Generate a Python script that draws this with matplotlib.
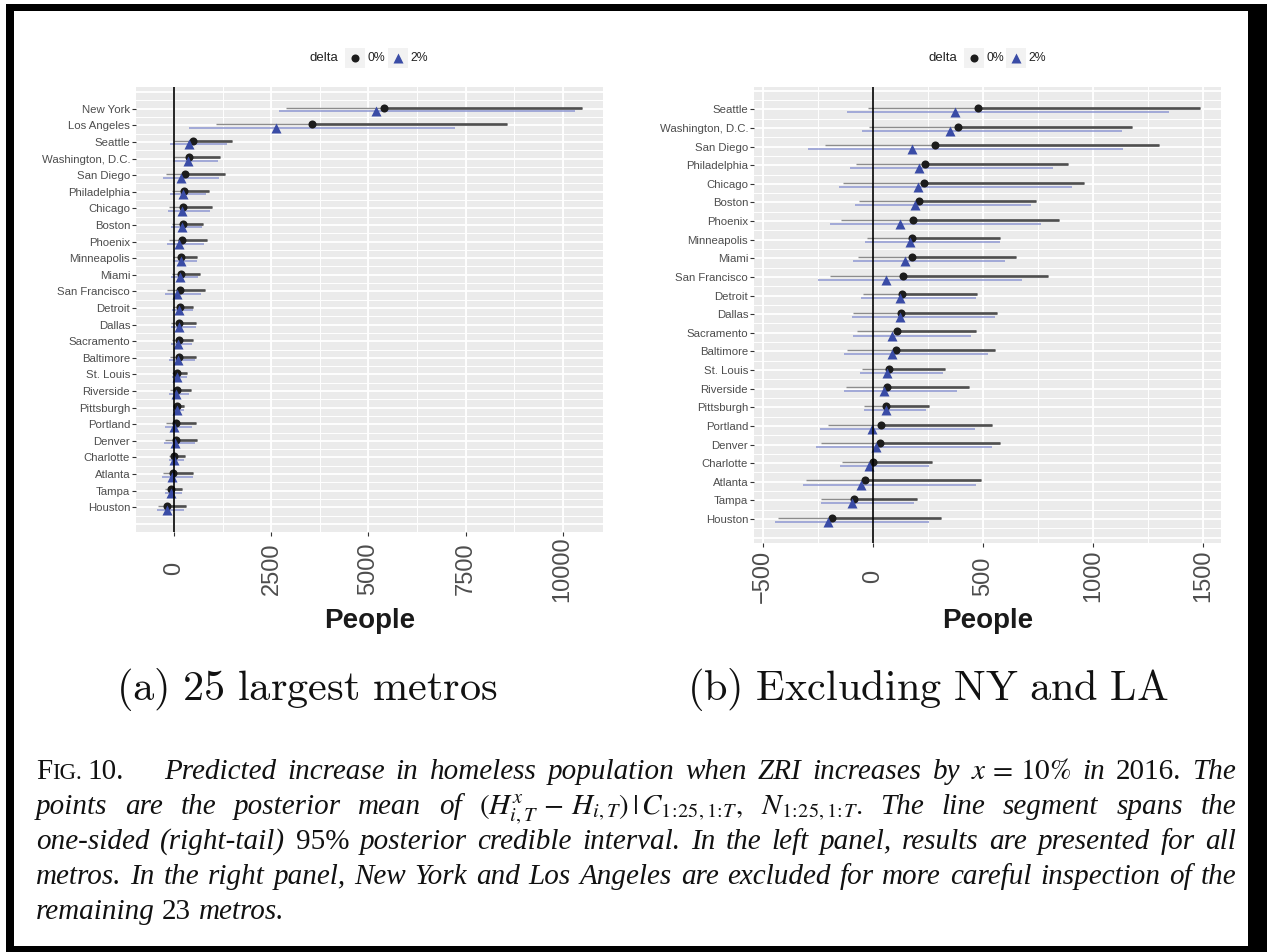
import matplotlib
matplotlib.use("Agg")
import matplotlib.pyplot as plt
import numpy as np
from matplotlib.patches import Rectangle
from matplotlib.lines import Line2D

plt.rcParams['font.family'] = ['Liberation Sans', 'DejaVu Sans']

W, H = 1267, 952

# ---------------- data (posterior mean and one-sided 95% interval) ----------------
metros = ["New York", "Los Angeles", "Seattle", "Washington, D.C.", "San Diego",
          "Philadelphia", "Chicago", "Boston", "Phoenix", "Minneapolis", "Miami",
          "San Francisco", "Detroit", "Dallas", "Sacramento", "Baltimore", "St. Louis",
          "Riverside", "Pittsburgh", "Portland", "Denver", "Charlotte", "Atlanta",
          "Tampa", "Houston"]
mean_0 = [5404, 3547, 480, 387, 283, 237, 232, 210, 183, 178, 178, 138, 131, 128,
          111, 108, 76, 66, 59, 39, 35, 2, -35, -86, -183]
low_0 = [2867, 1084, -20, -15, -219, -74, -135, -62, -143, -25, -67, -195, -42, -89,
         -71, -116, -50, -121, -39, -205, -236, -138, -301, -236, -429]
high_0 = [10495, 8565, 1486, 1178, 1301, 885, 959, 742, 847, 577, 650, 798, 476, 564,
          471, 557, 330, 438, 257, 544, 577, 271, 490, 199, 308]
mean_2 = [5202, 2628, 372, 353, 178, 209, 205, 192, 125, 170, 146, 62, 125, 123,
          89, 86, 67, 49, 59, -3, 17, -17, -54, -94, -202]
low_2 = [2683, 368, -116, -49, -296, -104, -153, -82, -192, -35, -89, -247, -52, -96,
         -89, -130, -59, -130, -40, -239, -256, -150, -315, -237, -443]
high_2 = [10320, 7233, 1348, 1133, 1138, 818, 905, 720, 766, 577, 603, 678, 468, 555,
          448, 523, 318, 385, 244, 463, 540, 257, 471, 187, 254]

ticks_a = [0, 2500, 5000, 7500, 10000]
ticks_b = [-500, 0, 500, 1000, 1500]
legend_title = "delta"
legend_labels = ["0%", "2%"]
xlabel = "People"
sub_a = r"$\mathrm{(a)\ 25\ largest\ metros}$"
sub_b = r"$\mathrm{(b)\ Excluding\ NY\ and\ LA}$"

C0_PT = '#1c1c1c'
C0_THICK = '#4f4f4f'
C0_THIN = '#8c8c8c'
C2_PT = '#3a4ca6'
C2_LINE = '#8e97d2'

fig = plt.figure(figsize=(W / 100, H / 100), dpi=100)
fig.patch.set_facecolor('white')


def fx(x):
    return x / W


def fy(y):
    return 1 - y / H


# frame around the figure
fig.add_artist(Rectangle((fx(6), fy(952)), fx(1267) - fx(6), fy(4) - fy(952),
                         transform=fig.transFigure, facecolor='black',
                         edgecolor='none', zorder=-3))
fig.add_artist(Rectangle((fx(14), fy(946)), fx(1248) - fx(14), fy(11) - fy(946),
                         transform=fig.transFigure, facecolor='white',
                         edgecolor='none', zorder=-2))


def fmt(v):
    return ("\u2212" + str(-v)) if v < 0 else str(v)


def panel(box, names, m0, l0, h0, m2, l2, h2, ticks, minor_step, ylim, lab_pad):
    left, top, right, bottom = box
    ax = fig.add_axes([fx(left), fy(bottom), fx(right) - fx(left), fy(top) - fy(bottom)])
    n = len(names)
    y = np.arange(n)[::-1].astype(float)
    ax.set_facecolor('#EBEBEB')
    for s in ax.spines.values():
        s.set_visible(False)
    lo = min(min(l0), min(l2))
    hi = max(max(h0), max(h2))
    pad = 0.05 * (hi - lo)
    ax.set_xlim(lo - pad, hi + pad)
    ax.set_ylim(*ylim)
    # grid
    mn = np.arange(ticks[0] - 2 * minor_step, ticks[-1] + 3 * minor_step, minor_step)
    for v in mn:
        ax.axvline(v, color='white', lw=0.7, zorder=0.5)
    for v in ticks:
        ax.axvline(v, color='white', lw=1.3, zorder=0.6)
    ys = np.arange(np.floor(ylim[0]), np.ceil(ylim[1]) + 1)
    for v in ys:
        ax.axhline(v, color='white', lw=1.3, zorder=0.6)
        ax.axhline(v + 0.5, color='white', lw=0.7, zorder=0.5)
    d0, d2 = 0.07, -0.15
    ax.hlines(y + d0, l0, h0, color=C0_THIN, lw=1.0, zorder=2)
    ax.hlines(y + d0, m0, h0, color=C0_THICK, lw=1.9, zorder=2.2)
    ax.hlines(y + d2, l2, h2, color=C2_LINE, lw=1.1, zorder=2.4)
    ax.plot(m0, y + d0, 'o', color=C0_PT, ms=5.8, mec='none', zorder=4)
    ax.plot(m2, y + d2, '^', color=C2_PT, ms=7.0, mec='none', zorder=5)
    ax.axvline(0, color='black', lw=1.2, zorder=6)
    ax.set_yticks(y)
    ax.set_yticklabels(names, fontsize=8.2, color='#4D4D4D')
    ax.tick_params(axis='y', length=3, width=0.8, color='#333333', pad=1.2)
    ax.set_xticks(ticks)
    ax.set_xticklabels([fmt(t) for t in ticks], rotation=90, fontsize=17, color='#4D4D4D')
    for lbl in ax.get_xticklabels():
        lbl.set_va('center')
    ax.tick_params(axis='x', length=3, width=0.8, color='#333333', pad=lab_pad)
    ax.set_xlabel(xlabel, fontsize=20, fontweight='bold', color='#1a1a1a')
    ax.xaxis.set_label_coords(0.5, (bottom - 621) / (bottom - top))
    ax.xaxis.label.set_va('center')
    return ax


panel((136, 87, 603, 532), metros, mean_0, low_0, high_0, mean_2, low_2, high_2,
      ticks_a, 1250, (-1.49, 25.31), 23.5)
panel((754, 87, 1221, 543), metros[2:], mean_0[2:], low_0[2:], high_0[2:],
      mean_2[2:], low_2[2:], high_2[2:], ticks_b, 250, (-1.29, 23.2), 20.8)


def legend(x_title, x_k1, x_k2):
    yc = 58
    fig.text(fx(x_title), fy(yc), legend_title, fontsize=9.5, color='#222222',
             va='center', ha='left')
    keys = [(x_k1, 'o', C0_PT, 5.8, legend_labels[0]),
            (x_k2, '^', C2_PT, 7.0, legend_labels[1])]
    for kx, mk, col, ms, lab in keys:
        fig.add_artist(Rectangle((fx(kx), fy(yc + 10)), fx(20), 20 / H,
                                 transform=fig.transFigure, facecolor='#F2F2F2',
                                 edgecolor='none'))
        fig.add_artist(Line2D([fx(kx + 10)], [fy(yc)], marker=mk, color=col, ms=ms,
                              mec='none', transform=fig.transFigure))
        fig.text(fx(kx + 22.5), fy(yc), lab, fontsize=8.8, color='#222222',
                 va='center', ha='left')


legend(310, 345, 388)
legend(929, 964, 1006)

fig.text(fx(116), fy(700), sub_a, fontsize=30.5, math_fontfamily='cm',
         va='baseline', ha='left', color='#111111')
fig.text(fx(687), fy(700), sub_b, fontsize=30.5, math_fontfamily='cm',
         va='baseline', ha='left', color='#111111')

# ---------------- caption ----------------
FS = 21
renderer = fig.canvas.get_renderer()


def mk(tok, kind, size=FS):
    kw = dict(fontsize=size, va='baseline', ha='left', color='#111111')
    if kind == 'i':
        return fig.text(0, 0, tok, family='Liberation Serif', style='italic', **kw)
    if kind == 'r':
        return fig.text(0, 0, tok, family='Liberation Serif', **kw)
    return fig.text(0, 0, tok, math_fontfamily='stix', **kw)


def width(t):
    return t.get_window_extent(renderer).width


def place(tokens, x_start, x_end, yb, justify=True):
    objs = [mk(t, k) for t, k in tokens]
    ws = [width(o) for o in objs]
    if justify and len(objs) > 1:
        gap = (x_end - x_start - sum(ws)) / (len(objs) - 1)
    else:
        gap = 0.25 * FS * 100 / 72
    x = x_start
    for o, w in zip(objs, ws):
        o.set_position((fx(x), fy(yb)))
        x += w + gap


def words(s, kind='i'):
    return [(w, kind) for w in s.split()]


X0, X1 = 36, 1236
LS = 35
Y1 = 779

# "FIG. 10." in small caps
tF = mk("F", 'r')
tF.set_position((fx(X0), fy(Y1)))
wF = width(tF)
tIG = mk("IG.", 'r', size=FS * 0.78)
tIG.set_position((fx(X0 + wF), fy(Y1)))
wIG = width(tIG)
t10 = mk("10.", 'r')
t10.set_position((fx(X0 + wF + wIG + 6), fy(Y1)))

line1 = (words("Predicted increase in homeless population when ZRI increases by")
         + [(r"$x\,=\,10\%$", 'm'), ("in", 'i'), ("2016.", 'r'), ("The", 'i')])
line2 = (words("points are the posterior mean of")
         + [(r"$(H^{x}_{i,T}\,-\,H_{i,T})\,|\,C_{1\!:\!25,1\!:\!T},$", 'm'),
            (r"$N_{1\!:\!25,1\!:\!T}.$", 'm')]
         + words("The line segment spans the"))
line3 = (words("one-sided (right-tail)") + [("95%", 'r')]
         + words("posterior credible interval. In the left panel, results are presented for all"))
line4 = words("metros. In the right panel, New York and Los Angeles are excluded for more careful inspection of the")
line5 = [("remaining", 'i'), ("23", 'r'), ("metros.", 'i')]

place(line1, 164, X1, Y1)
place(line2, X0, X1, Y1 + LS)
place(line3, X0, X1, Y1 + 2 * LS)
place(line4, X0, X1, Y1 + 3 * LS)
place(line5, X0, X1, Y1 + 4 * LS, justify=False)

fig.savefig("out.png", dpi=100, facecolor='white')
